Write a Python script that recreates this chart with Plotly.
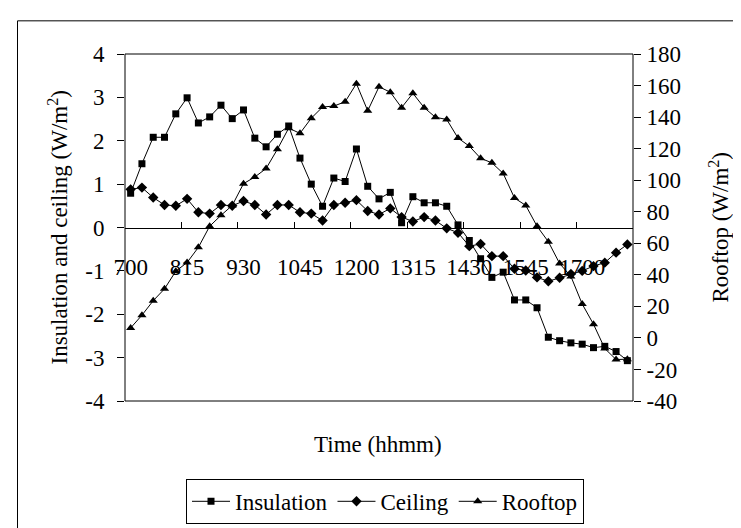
import plotly.graph_objects as go

times = ["700", "715", "730", "745", "800", "815", "830", "845", "900", "915",
         "930", "945", "1000", "1015", "1030", "1045", "1100", "1115", "1130", "1145",
         "1200", "1215", "1230", "1245", "1300", "1315", "1330", "1345", "1400", "1415",
         "1430", "1445", "1500", "1515", "1530", "1545", "1600", "1615", "1630", "1645",
         "1700", "1715", "1730", "1745", "1800"]

insulation = [0.79, 1.47, 2.08, 2.08, 2.62, 2.99, 2.41, 2.55, 2.82, 2.51,
              2.71, 2.06, 1.86, 2.15, 2.34, 1.60, 1.00, 0.49, 1.14, 1.06,
              1.81, 0.95, 0.66, 0.81, 0.11, 0.71, 0.57, 0.57, 0.49, 0.06,
              -0.30, -0.72, -1.15, -1.03, -1.67, -1.67, -1.85, -2.53, -2.61, -2.66,
              -2.69, -2.77, -2.74, -2.86, -3.07]

ceiling = [0.88, 0.92, 0.69, 0.52, 0.50, 0.66, 0.35, 0.32, 0.52, 0.50,
           0.61, 0.52, 0.30, 0.52, 0.52, 0.35, 0.32, 0.16, 0.52, 0.57,
           0.63, 0.38, 0.30, 0.44, 0.24, 0.14, 0.24, 0.16, -0.02, -0.12,
           -0.43, -0.38, -0.66, -0.66, -0.95, -0.99, -1.15, -1.24, -1.16, -1.07,
           -1.00, -0.89, -0.81, -0.58, -0.39]

rooftop = [6.3, 14.4, 23.6, 31.1, 42.3, 47.8, 57.4, 70.8, 77.7, 84.0,
           97.8, 102.0, 107.4, 119.6, 133.0, 129.7, 139.3, 146.4, 147.0, 149.7,
           161.2, 144.0, 159.2, 155.8, 146.0, 155.1, 146.0, 139.9, 138.5, 126.7,
           121.6, 113.9, 111.0, 104.3, 88.7, 84.0, 70.8, 61.0, 47.2, 39.0,
           21.5, 8.7, -6.7, -13.7, -13.5]

left_ticks = [-4, -3, -2, -1, 0, 1, 2, 3, 4]
right_ticks = [-40, -20, 0, 20, 40, 60, 80, 100, 120, 140, 160, 180]
label_step = 5

FONT = "Liberation Serif, Times New Roman, serif"
FS = 23

idx = list(range(len(times)))
label_pos = idx[::label_step]
label_txt = [times[i] for i in label_pos]
boundaries = [i - 0.5 for i in range(label_step, len(times), label_step)]

fig = go.Figure()
line = dict(color="black", width=1)
fig.add_trace(go.Scatter(x=idx, y=insulation, name="Insulation", mode="lines+markers",
                         line=line, marker=dict(symbol="square", size=7, color="black")))
fig.add_trace(go.Scatter(x=idx, y=ceiling, name="Ceiling", mode="lines+markers",
                         line=line, marker=dict(symbol="diamond", size=8, color="black")))
fig.add_trace(go.Scatter(x=idx, y=rooftop, name="Rooftop", mode="lines+markers", yaxis="y2",
                         line=line, marker=dict(symbol="triangle-up", size=8, color="black")))

L, R, T, B = 117, 116, 46, 121
W, H = 741, 528
pw, ph = W - L - R, H - T - B

def px(x):
    return (x - L) / pw

def py(y):
    return (H - B - y) / ph

fig.update_layout(
    width=W, height=H,
    margin=dict(l=L, r=R, t=T, b=B),
    paper_bgcolor="white", plot_bgcolor="white",
    font=dict(family=FONT, size=FS, color="black"),
    showlegend=True,
    legend=dict(orientation="h", x=px(576), xanchor="right", y=py(488), yanchor="top",
                bordercolor="black", borderwidth=1, bgcolor="white",
                font=dict(family=FONT, size=FS), itemwidth=38, tracegroupgap=0),
    xaxis=dict(range=[-0.5, len(times) - 0.5], anchor="free", position=0.5,
               tickmode="array", tickvals=label_pos, ticktext=label_txt,
               ticks="", showline=True, linecolor="black", linewidth=1,
               showgrid=False, zeroline=False, ticklabelstandoff=19,
               minor=dict(tickmode="array", tickvals=boundaries, ticks="inside",
                          ticklen=6, tickcolor="black", showgrid=False)),
    yaxis=dict(range=[-4, 4], tickmode="array", tickvals=left_ticks,
               ticktext=[str(v) for v in left_ticks],
               ticks="outside", ticklen=7, tickcolor="black",
               showline=False, showgrid=False, zeroline=False, ticklabelstandoff=8),
    yaxis2=dict(range=[-40, 180], tickmode="array", tickvals=right_ticks,
                ticktext=[str(v) for v in right_ticks],
                overlaying="y", side="right",
                ticks="outside", ticklen=7, tickcolor="black", showline=False,
                showgrid=False, zeroline=False, ticklabelstandoff=1),
    yaxis3=dict(range=[-40, 180], tickmode="array", tickvals=right_ticks,
                overlaying="y", side="right",
                ticks="inside", ticklen=7, tickcolor="black", showticklabels=False,
                showline=False, showgrid=False, zeroline=False),
    shapes=[
        dict(type="rect", xref="paper", yref="paper", x0=0, x1=1, y0=0, y1=1,
             line=dict(color="black", width=1), layer="above"),
        dict(type="rect", xref="paper", yref="paper", x0=px(9.5), x1=px(760),
             y0=py(560), y1=py(11.5), line=dict(color="black", width=1)),
    ],
    annotations=[
        dict(text="Time (hhmm)", xref="paper", yref="paper", x=px(370), y=py(452),
             xanchor="center", yanchor="middle", showarrow=False, font=dict(size=FS)),
        dict(text="Insulation and ceiling (W/m<sup>2</sup>)", xref="paper", yref="paper",
             x=px(50), y=0.5, textangle=-90, xanchor="center", yanchor="middle",
             showarrow=False, font=dict(size=FS)),
        dict(text="Rooftop (W/m<sup>2</sup>)", xref="paper", yref="paper",
             x=px(711), y=0.5, textangle=-90, xanchor="center", yanchor="middle",
             showarrow=False, font=dict(size=FS)),
    ],
)

fig.write_html("out.html")
